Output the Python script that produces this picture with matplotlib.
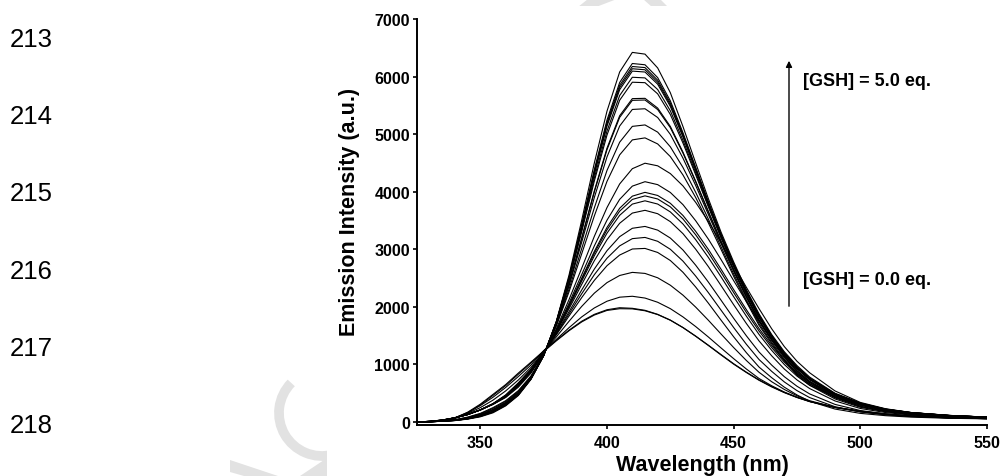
import matplotlib
matplotlib.use("Agg")
import numpy as np
import matplotlib.pyplot as plt
from matplotlib.patches import Rectangle, Arc, Polygon

# emission spectra, one row per GSH addition (0.0 -> 5.0 eq.)
wavelength = [325, 330, 335, 340, 345, 350, 355, 360, 365, 370, 375, 380, 385, 390,
              395, 400, 405, 410, 415, 420, 425, 430, 435, 440, 445, 450, 455, 460,
              465, 470, 475, 480, 490, 500, 510, 520, 535, 550]

spectra = [
    [0, 3, 14, 62, 158, 295, 462, 632, 830, 1025, 1222, 1410, 1585, 1738, 1858, 1938, 1968, 1965, 1932, 1866, 1768, 1640, 1492, 1334, 1172, 1012, 866, 732, 616, 515, 430, 358, 255, 188, 138, 104, 74, 59],
    [0, 3, 15, 70, 170, 310, 480, 650, 850, 1040, 1235, 1420, 1595, 1750, 1870, 1950, 1985, 1975, 1940, 1870, 1770, 1640, 1490, 1330, 1165, 1005, 860, 725, 610, 510, 425, 355, 255, 190, 140, 105, 75, 60],
    [0, 5, 25, 75, 165, 285, 430, 600, 790, 990, 1240, 1435, 1638, 1825, 1981, 2098, 2168, 2184, 2153, 2080, 1969, 1825, 1658, 1477, 1287, 1100, 921, 756, 630, 520, 430, 355, 250, 180, 130, 100, 72, 58],
    [0, 8, 28, 75, 150, 250, 380, 540, 730, 950, 1225, 1479, 1749, 2007, 2238, 2421, 2545, 2599, 2581, 2505, 2376, 2203, 1996, 1768, 1529, 1293, 1069, 864, 700, 565, 455, 370, 255, 180, 130, 100, 72, 58],
    [0, 12, 35, 75, 130, 210, 320, 470, 680, 920, 1215, 1515, 1840, 2160, 2460, 2715, 2900, 3005, 3015, 2945, 2805, 2600, 2345, 2065, 1770, 1480, 1205, 955, 770, 605, 470, 360, 225, 150, 110, 85, 65, 55],
    [0, 12, 34, 74, 130, 210, 318, 464, 670, 911, 1212, 1529, 1877, 2226, 2559, 2845, 3059, 3185, 3206, 3139, 3000, 2794, 2535, 2248, 1944, 1641, 1351, 1086, 880, 696, 545, 424, 266, 175, 125, 95, 71, 59],
    [0, 11, 34, 74, 130, 210, 316, 458, 661, 902, 1209, 1542, 1914, 2292, 2657, 2976, 3219, 3365, 3397, 3333, 3195, 2987, 2724, 2431, 2117, 1801, 1498, 1217, 989, 787, 621, 488, 306, 199, 141, 106, 78, 63],
    [0, 11, 33, 73, 130, 210, 313, 450, 646, 889, 1204, 1562, 1967, 2388, 2802, 3166, 3452, 3629, 3677, 3618, 3480, 3271, 3002, 2700, 2371, 2037, 1712, 1409, 1150, 920, 731, 581, 366, 235, 164, 121, 87, 68],
    [0, 11, 32, 72, 130, 210, 312, 445, 638, 881, 1201, 1574, 1999, 2445, 2888, 3280, 3590, 3785, 3842, 3786, 3649, 3439, 3167, 2859, 2522, 2176, 1839, 1522, 1245, 999, 797, 637, 401, 256, 177, 130, 93, 72],
    [0, 11, 32, 72, 130, 210, 311, 442, 634, 877, 1200, 1580, 2016, 2475, 2932, 3338, 3662, 3866, 3928, 3874, 3737, 3526, 3252, 2941, 2600, 2248, 1905, 1581, 1294, 1040, 831, 665, 419, 267, 184, 134, 96, 74],
    [0, 11, 32, 72, 130, 210, 310, 440, 631, 874, 1199, 1584, 2028, 2496, 2963, 3380, 3713, 3923, 3989, 3935, 3799, 3587, 3312, 2999, 2655, 2299, 1952, 1623, 1329, 1069, 855, 686, 432, 275, 189, 138, 98, 75],
    [0, 10, 31, 71, 130, 210, 308, 435, 621, 865, 1195, 1597, 2063, 2559, 3059, 3506, 3867, 4097, 4174, 4123, 3987, 3775, 3496, 3177, 2823, 2455, 2094, 1750, 1436, 1157, 928, 748, 472, 299, 204, 148, 104, 78],
    [0, 10, 30, 70, 130, 210, 305, 425, 605, 850, 1190, 1620, 2125, 2670, 3225, 3725, 4135, 4400, 4495, 4450, 4315, 4100, 3815, 3485, 3115, 2725, 2340, 1970, 1620, 1310, 1055, 855, 540, 340, 230, 165, 115, 85],
    [0, 6, 18, 40, 85, 150, 250, 370, 545, 800, 1170, 1670, 2260, 2920, 3580, 4180, 4640, 4900, 4935, 4830, 4610, 4290, 3900, 3460, 3000, 2530, 2090, 1680, 1360, 1065, 815, 640, 430, 290, 200, 150, 105, 80],
    [0, 6, 17, 38, 80, 141, 236, 356, 532, 791, 1167, 1680, 2305, 3010, 3720, 4370, 4860, 5135, 5160, 5035, 4780, 4420, 3990, 3525, 3045, 2570, 2120, 1710, 1385, 1090, 840, 660, 441, 296, 204, 152, 107, 81],
    [0, 6, 16, 35, 73, 129, 219, 339, 515, 779, 1163, 1698, 2361, 3122, 3900, 4605, 5141, 5429, 5441, 5289, 4996, 4582, 4109, 3606, 3104, 2617, 2163, 1750, 1416, 1119, 872, 689, 454, 304, 209, 155, 108, 82],
    [0, 6, 15, 33, 69, 123, 209, 329, 507, 773, 1161, 1706, 2391, 3182, 3996, 4731, 5291, 5587, 5593, 5427, 5112, 4670, 4171, 3650, 3136, 2643, 2185, 1770, 1432, 1135, 890, 703, 462, 308, 211, 157, 110, 82],
    [0, 6, 15, 33, 68, 122, 208, 328, 505, 772, 1161, 1708, 2397, 3194, 4014, 4756, 5320, 5617, 5622, 5453, 5134, 4686, 4183, 3658, 3142, 2648, 2189, 1774, 1436, 1138, 893, 706, 463, 309, 212, 157, 110, 82],
    [0, 5, 14, 30, 62, 110, 191, 311, 489, 760, 1157, 1723, 2451, 3302, 4186, 4984, 5589, 5902, 5894, 5700, 5341, 4844, 4295, 3737, 3198, 2695, 2228, 1812, 1465, 1167, 924, 732, 476, 316, 216, 160, 112, 83],
    [0, 5, 14, 29, 60, 107, 186, 306, 484, 757, 1156, 1727, 2468, 3335, 4239, 5054, 5671, 5988, 5977, 5775, 5405, 4891, 4330, 3761, 3215, 2709, 2240, 1823, 1475, 1176, 933, 740, 480, 319, 218, 161, 112, 84],
    [0, 5, 13, 28, 57, 103, 179, 299, 478, 753, 1154, 1733, 2488, 3376, 4303, 5139, 5772, 6095, 6079, 5868, 5482, 4950, 4372, 3790, 3236, 2727, 2255, 1837, 1486, 1187, 945, 750, 485, 321, 220, 162, 113, 84],
    [0, 5, 13, 27, 56, 101, 177, 297, 476, 751, 1154, 1735, 2496, 3392, 4328, 5172, 5811, 6136, 6118, 5903, 5512, 4973, 4388, 3801, 3244, 2733, 2261, 1843, 1490, 1191, 949, 754, 487, 323, 220, 162, 113, 84],
    [0, 5, 13, 27, 56, 100, 175, 294, 474, 750, 1153, 1737, 2503, 3407, 4352, 5204, 5848, 6175, 6156, 5937, 5541, 4995, 4403, 3812, 3252, 2740, 2266, 1848, 1494, 1195, 953, 757, 489, 324, 221, 163, 113, 84],
    [0, 5, 13, 27, 54, 98, 171, 291, 471, 748, 1153, 1740, 2513, 3426, 4383, 5245, 5897, 6227, 6205, 5982, 5579, 5023, 4424, 3827, 3262, 2748, 2273, 1855, 1500, 1200, 959, 762, 491, 325, 222, 163, 114, 84],
    [0, 5, 12, 25, 50, 90, 160, 280, 460, 740, 1150, 1750, 2550, 3500, 4500, 5400, 6080, 6420, 6390, 6150, 5720, 5130, 4500, 3880, 3300, 2780, 2300, 1880, 1520, 1220, 980, 780, 500, 330, 225, 165, 115, 85],
]

xticks = [350, 400, 450, 500, 550]
yticks = [0, 1000, 2000, 3000, 4000, 5000, 6000, 7000]
line_numbers = ["213", "214", "215", "216", "217", "218"]

plt.rcParams['font.family'] = ['Liberation Sans', 'DejaVu Sans']

W, H = 1000, 477
fig = plt.figure(figsize=(W / 100, H / 100), dpi=100)

def px(x, y):
    # page pixel (top-left origin) -> figure fraction
    return (x / W, 1 - y / H)

# faint bits of the page watermark that peek out around the figure image
wm = '#e2e2e2'
fig.add_artist(Arc(px(322, 414), 86 / W, 86 / H, theta1=116, theta2=277, lw=7,
                   color=wm, transform=fig.transFigure, zorder=-3))
for pts in ([(230, 461), (278, 477), (244, 477), (230, 473)],
            [(300, 477), (327, 459), (327, 477)],
            [(588, 0), (617, 0), (596, 8), (578, 8)],
            [(643, 0), (660, 0), (668, 8), (652, 8)]):
    fig.add_artist(Polygon([px(x, y) for x, y in pts], closed=True, facecolor=wm,
                           edgecolor='none', transform=fig.transFigure, zorder=-3))
fig.add_artist(Rectangle((327 / W, 0), 1 - 327 / W, 1 - 7 / H, transform=fig.transFigure,
                         facecolor='white', edgecolor='none', zorder=-2))

# manuscript line numbers
for i, s in enumerate(line_numbers):
    fig.text(10 / W, 1 - (47 + i * 77.2) / H, s, fontsize=18.5, ha='left', va='baseline')

ax = fig.add_axes([417 / W, 1 - 426 / H, 570 / W, 406 / H])
ax.patch.set_alpha(0)
wl = np.array(wavelength)
for row in np.array(spectra):
    ax.plot(wl, row, color='black', lw=0.8)

ax.set_xlim(325, 550)
ax.set_ylim(-52, 7000)
ax.set_xticks(xticks)
ax.set_yticks(yticks)
for side in ('top', 'right'):
    ax.spines[side].set_visible(False)
for side in ('left', 'bottom'):
    ax.spines[side].set_linewidth(1.4)
ax.tick_params(direction='out', length=3, width=1.2, labelsize=11.5)
ax.tick_params(axis='x', pad=4)
ax.tick_params(axis='y', pad=2)
for lab in ax.get_xticklabels() + ax.get_yticklabels():
    lab.set_fontweight('bold')

fig.text(349 / W, 1 - 212 / H, "Emission Intensity (a.u.)", rotation=90, fontsize=15.5,
         fontweight='bold', ha='center', va='center')
fig.text(702 / W, 1 - 466 / H, "Wavelength (nm)", fontsize=15.5, fontweight='bold',
         ha='center', va='center')

ax.annotate("", xy=(789, H - 59), xytext=(789, H - 310), xycoords='figure pixels',
            textcoords='figure pixels',
            arrowprops=dict(arrowstyle='-|>', lw=1, color='black', mutation_scale=9))
fig.text(803 / W, 1 - 86 / H, "[GSH] = 5.0 eq.", fontsize=13, fontweight='bold',
         ha='left', va='baseline')
fig.text(803 / W, 1 - 285 / H, "[GSH] = 0.0 eq.", fontsize=13, fontweight='bold',
         ha='left', va='baseline')

fig.savefig("out.png", dpi=100)
